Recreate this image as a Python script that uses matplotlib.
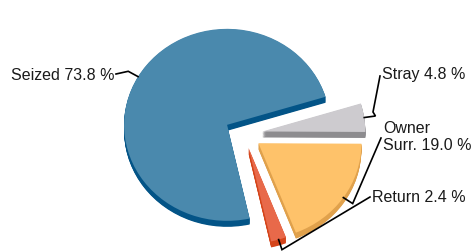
import numpy as np
import matplotlib
matplotlib.use("Agg")
import matplotlib.pyplot as plt

# data (order of the slices, counter-clockwise from the start angle)
labels = ["Seized", "Return", "Owner\nSurr.", "Stray"]
shares = [73.8, 2.4, 19.0, 4.8]

top_colors = ["#4a89ad", "#e8694a", "#fec26a", "#cdcbcf"]
side_colors = ["#035487", "#d4441a", "#e0a14c", "#8d8c8f"]
explode = [0.19, 0.15, 0.17, 0.18]

# geometry in pixels of the 474x253 picture
W, H = 474, 253
CX, CY = 244, 135      # pie centre
RX, RY = 103, 96       # ellipse radii (tilted view)
DEPTH = 6              # thickness of the disc


def px(x, y):
    # pixel position (from top left) -> data units
    return (x - CX) / RX, (CY - y) / RY


fig = plt.figure(figsize=(W / 100, H / 100), dpi=100)
ax = fig.add_axes([0, 0, 1, 1])

# side walls: stacked darker copies shifted down
n = 10
dz = DEPTH / RY
for k in range(n, 0, -1):
    ax.pie(shares, startangle=17, explode=explode, colors=side_colors,
           center=(0, -dz * k / n), wedgeprops=dict(linewidth=0))

# top face
wedges, _ = ax.pie(shares, startangle=17, explode=explode, colors=top_colors,
                   wedgeprops=dict(linewidth=0))

ax.set_aspect("auto")
ax.set_xlim(-CX / RX, (W - CX) / RX)
ax.set_ylim(-(H - CY) / RY, CY / RY)
ax.axis("off")

# label positions (pixels) and the point where the leader meets the text
label_pos = [(114, 75), (372, 198), (383, 137), (382, 75)]
leader_end = [(116, 75), (370, 198), (381, 139), (380, 77)]
align = ["right", "left", "left", "left"]

for w, lab, val, tp, le, ha in zip(wedges, labels, shares, label_pos, leader_end, align):
    mid = np.deg2rad((w.theta1 + w.theta2) / 2)
    cx, cy = w.center
    ax0 = cx + np.cos(mid)
    ay0 = cy + np.sin(mid)
    ex = cx + 1.11 * np.cos(mid)
    ey = cy + 1.11 * np.sin(mid)
    if lab == "Stray":
        mx, my = px(373, 113)
        xs = [ax0, ex, mx, px(*le)[0]]
        ys = [ay0, ey, my, px(*le)[1]]
    else:
        xs = [ax0, ex, px(*le)[0]]
        ys = [ay0, ey, px(*le)[1]]
    ax.plot(xs, ys, color="black", lw=1.2, solid_joinstyle="miter")
    tx, ty = px(*tp)
    ax.text(tx, ty, f"{lab} {val:.1f} %", ha=ha, va="center",
            fontsize=11.5, family="Liberation Sans", color="#1a1a1a",
            linespacing=1.15)

fig.savefig("out.png", dpi=100)
